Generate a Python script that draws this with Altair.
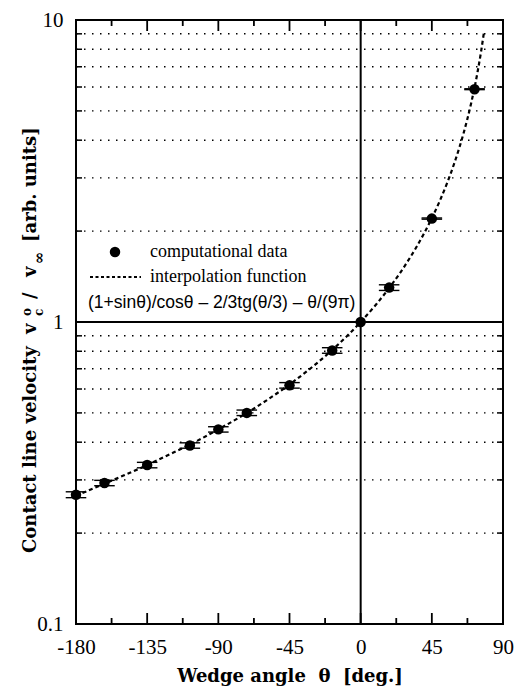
import altair as alt
import pandas as pd

# ---------------- data ----------------
theta_pts = [-180, -162, -135, -108, -90, -72, -45, -18, 0, 18, 45, 72]
v_pts = [0.268, 0.293, 0.336, 0.390, 0.441, 0.500, 0.617, 0.805, 1.0, 1.30, 2.20, 5.90]

err_theta = [-180, -162, -135, -108, -90, -72, -45, -18, 18, 45, 72]
err_lo = [0.262, 0.287, 0.329, 0.382, 0.432, 0.490, 0.604, 0.788, 1.272, 2.19, 5.88]
err_hi = [0.274, 0.299, 0.343, 0.398, 0.450, 0.511, 0.630, 0.822, 1.328, 2.21, 5.92]
err_halfwidth = 6.5

curve_theta = [-180, -165, -150, -135, -120, -105, -90, -75, -60, -45, -30, -15,
               0, 10, 20, 30, 40, 50, 55, 60, 65, 70, 74, 76, 78]
curve_v = [0.266, 0.287, 0.310, 0.336, 0.366, 0.400, 0.441, 0.489, 0.548, 0.621,
           0.714, 0.835, 1.0, 1.147, 1.338, 1.596, 1.962, 2.517, 2.917, 3.452,
           4.206, 5.341, 6.764, 7.782, 9.141]

x_major = [-180, -135, -90, -45, 0, 45, 90]
x_minor = [-157.5, -112.5, -67.5, -22.5, 22.5, 67.5]
y_labels = [0.1, 1, 10]
y_grid = [0.2, 0.3, 0.4, 0.5, 0.6, 0.7, 0.8, 0.9, 2, 3, 4, 5, 6, 7, 8, 9]

W, H = 427, 604
NB = "\u00a0"
SERIF = "'Liberation Serif', 'Times New Roman', serif"
SERIF_B = "'DejaVu Serif', 'Liberation Serif', serif"
SANS = "'Liberation Sans', Arial, sans-serif"

xscale = alt.Scale(domain=[-180, 90], nice=False, zero=False)
yscale = alt.Scale(type="log", domain=[0.1, 10], nice=False)

xaxis = alt.Axis(values=x_major, labelExpr="'' + datum.value",
                 labelFont=SERIF, labelFontSize=21, labelColor="black",
                 labelPadding=12, labelFlush=False, ticks=False, tickSize=0,
                 domain=False, grid=False,
                 title=f"Wedge angle{NB}{NB}θ{NB}{NB}[deg.]",
                 titleFont=SERIF_B, titleFontSize=18, titleFontWeight="bold",
                 titleColor="black", titlePadding=10)
yaxis = alt.Axis(values=y_labels, format="~g",
                 labelFont=SERIF, labelFontSize=21, labelColor="black",
                 labelPadding=13, ticks=False, tickSize=0, domain=False, grid=False,
                 title="")


def X(field="theta"):
    return alt.X(f"{field}:Q", scale=xscale, axis=xaxis)


def Y(field="v"):
    return alt.Y(f"{field}:Q", scale=yscale, axis=yaxis)


pts = pd.DataFrame({"theta": theta_pts, "v": v_pts})
curve = pd.DataFrame({"theta": curve_theta, "v": curve_v})
err_l = pd.DataFrame({"theta": [t - err_halfwidth for t in err_theta],
                      "theta2": [t + err_halfwidth for t in err_theta], "v": err_lo})
err_h = pd.DataFrame({"theta": [t - err_halfwidth for t in err_theta],
                      "theta2": [t + err_halfwidth for t in err_theta], "v": err_hi})
grid = pd.DataFrame({"v": y_grid})
one = pd.DataFrame({"v": [1]})
zero = pd.DataFrame({"theta": [0]})
xmaj = pd.DataFrame({"theta": x_major})
xmin = pd.DataFrame({"theta": x_minor})
dummy = pd.DataFrame({"a": [0]})

layers = []

# dotted horizontal grid lines
layers.append(alt.Chart(grid).mark_rule(color="black", strokeWidth=1.4, strokeDash=[1.5, 6.5])
              .encode(y=Y(), x=alt.value(0), x2=alt.value(W)))
# left / right inward minor ticks
layers.append(alt.Chart(grid).mark_rule(color="black", strokeWidth=1.5)
              .encode(y=Y(), x=alt.value(0), x2=alt.value(6)))
layers.append(alt.Chart(grid).mark_rule(color="black", strokeWidth=1.5)
              .encode(y=Y(), x=alt.value(W - 6), x2=alt.value(W)))
# solid reference lines
layers.append(alt.Chart(one).mark_rule(color="black", strokeWidth=2)
              .encode(y=Y(), x=alt.value(0), x2=alt.value(W)))
layers.append(alt.Chart(zero).mark_rule(color="black", strokeWidth=2)
              .encode(x=X(), y=alt.value(0), y2=alt.value(H)))
# x ticks bottom and top (inward)
for df, ln in ((xmaj, 11), (xmin, 6)):
    layers.append(alt.Chart(df).mark_rule(color="black", strokeWidth=1.8)
                  .encode(x=X(), y=alt.value(H - ln), y2=alt.value(H)))
    layers.append(alt.Chart(df).mark_rule(color="black", strokeWidth=1.8)
                  .encode(x=X(), y=alt.value(0), y2=alt.value(ln)))
# interpolation curve
layers.append(alt.Chart(curve).mark_line(color="black", strokeWidth=2.2, strokeDash=[4, 3],
                                         interpolate="monotone")
              .encode(x=X(), y=Y()))
# error bars
for df in (err_l, err_h):
    layers.append(alt.Chart(df).mark_rule(color="black", strokeWidth=1.4)
                  .encode(x=X(), x2="theta2:Q", y=Y()))
# data points
layers.append(alt.Chart(pts).mark_circle(color="black", opacity=1, size=110)
              .encode(x=X(), y=Y()))

# legend
layers.append(alt.Chart(dummy).mark_circle(color="black", opacity=1, size=110)
              .encode(x=alt.value(39), y=alt.value(232)))
layers.append(alt.Chart(dummy).mark_rule(color="black", strokeWidth=2, strokeDash=[3, 2.5])
              .encode(x=alt.value(14), x2=alt.value(65), y=alt.value(257)))
legend_texts = [("computational data", 74, 232), ("interpolation function", 74, 257)]
for txt, lx, ly in legend_texts:
    layers.append(alt.Chart(dummy).mark_text(font=SERIF, fontSize=18, align="left",
                                             baseline="middle", color="black")
                  .encode(x=alt.value(lx), y=alt.value(ly), text=alt.value(txt)))
layers.append(alt.Chart(dummy).mark_text(font=SANS, fontSize=17.5, align="left",
                                         baseline="middle", color="black")
              .encode(x=alt.value(12), y=alt.value(283),
                      text=alt.value("(1+sinθ)/cosθ – 2/3tg(θ/3) – θ/(9π)")))

# y-axis title built from pieces (rotated)
title_pieces = [
    ("Contact line velocity", -40, 533, 18),
    ("v", -40, 314, 18),
    ("o", -45, 296, 12),
    ("c", -33, 296, 12),
    ("/", -40, 279, 18),
    ("v", -40, 257, 18),
    ("∞", -32, 244, 15),
    ("[arb." + NB + "units]", -40, 222, 18),
]
for txt, tx, ty, fs in title_pieces:
    layers.append(alt.Chart(dummy).mark_text(font=SERIF_B, fontWeight="bold", fontSize=fs,
                                             align="left", baseline="alphabetic", angle=270,
                                             color="black")
                  .encode(x=alt.value(tx), y=alt.value(ty), text=alt.value(txt)))

chart = (alt.layer(*layers)
         .properties(width=W, height=H,
                     autosize=alt.AutoSizeParams(type="none"),
                     padding={"left": 76, "top": 20, "right": 26, "bottom": 64},
                     background="white")
         .configure_view(stroke="black", strokeWidth=2))

chart.save("out.html", embed_options={"renderer": "svg", "actions": False})
